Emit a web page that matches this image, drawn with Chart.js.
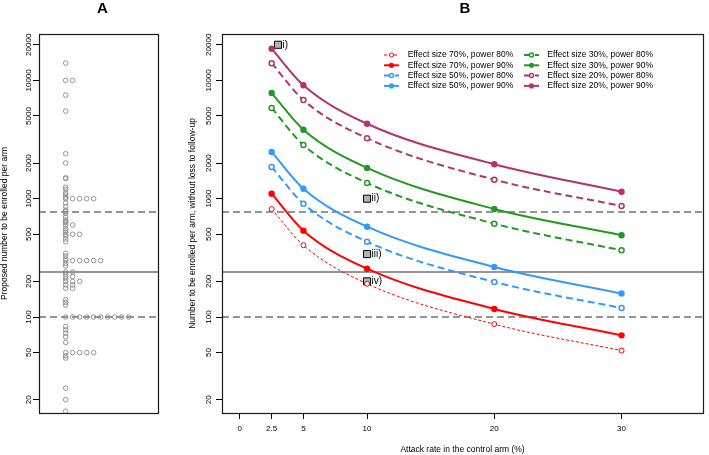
<!DOCTYPE html>
<html>
<head>
<meta charset="utf-8">
<script src="https://cdn.jsdelivr.net/npm/chart.js@4.4.0/dist/chart.umd.min.js"></script>
<style>
  body { margin: 0; background: #fff; }
  #wrap { position: relative; width: 709px; height: 455px; }
  #chartA { position: absolute; left: 0; top: 0; }
  #chartB { position: absolute; left: 180px; top: 0; }
</style>
</head>
<body>
<div id="wrap">
  <canvas id="chartA" width="180" height="455"></canvas>
  <canvas id="chartB" width="529" height="455"></canvas>
</div>
<script>
// ---- data ----
const yTicks = [20, 50, 100, 200, 500, 1000, 2000, 5000, 10000, 20000];
const xTicks = [0, 2.5, 5, 10, 20, 30];
const attackRates = [2.5, 5, 10, 20, 30];

const seriesLabels = [
  'Effect size 70%, power 80%',
  'Effect size 70%, power 90%',
  'Effect size 50%, power 80%',
  'Effect size 50%, power 90%',
  'Effect size 30%, power 80%',
  'Effect size 30%, power 90%',
  'Effect size 20%, power 80%',
  'Effect size 20%, power 90%'
];
const es70p80 = [818, 404, 191, 87, 52];
const es70p90 = [1102, 537, 256, 117, 70];
const es50p80 = [1854, 907, 433, 198, 119];
const es50p90 = [2483, 1215, 580, 265, 158];
const es30p80 = [5850, 2845, 1358, 615, 366];
const es30p90 = [7815, 3830, 1819, 818, 491];
const es20p80 = [13970, 6820, 3245, 1448, 867];
const es20p90 = [18530, 9100, 4300, 1955, 1146];

// proposed sample sizes per arm (panel A)
const trialSizes = [
  14000, 10000, 10000, 7500, 5500, 2400, 2000, 1500, 1480, 1250, 1200, 1120, 1075, 1030,
  1000, 1000, 1000, 1000, 1000,
  920, 860, 800, 777, 750, 700, 660, 640, 627,
  600, 600, 560, 540, 520,
  500, 500, 500, 485, 457, 433,
  346, 328, 310,
  300, 300, 300, 300, 300, 300,
  284, 270,
  240, 240, 230, 220, 220, 210,
  200, 200, 200,
  187, 187, 175, 175,
  140, 133, 126,
  100, 100, 100, 100, 100, 100, 100, 100, 100, 100,
  83, 78, 73, 68, 61,
  50, 50, 50, 50, 50,
  47, 45, 25, 20, 16
];

const refLines = [770, 240, 100];
const refDashed = [true, false, true];

const markX = [3, 10, 10, 10];
const markY = [20000, 1000, 340, 200];
const markLabels = ['i)', 'ii)', 'iii)', 'iv)'];

Chart.defaults.font.family = '"Liberation Sans", Arial, Helvetica, sans-serif';
Chart.defaults.color = '#000';

// stripchart "stack": repeated values move one column right
const seen = {};
const stripPoints = trialSizes.map(v => {
  seen[v] = (seen[v] || 0) + 1;
  return { x: seen[v] - 1, y: v };
});

// ---- plugins ----
const framePlugin = {
  id: 'frame',
  beforeDatasetsDraw(chart) {
    const { ctx, chartArea: a, scales: { y } } = chart;
    ctx.save();
    ctx.strokeStyle = '#737373';
    ctx.lineWidth = 1.5;
    refLines.forEach((v, i) => {
      const py = y.getPixelForValue(v);
      ctx.setLineDash(refDashed[i] ? [7, 4] : []);
      ctx.beginPath();
      ctx.moveTo(a.left, py);
      ctx.lineTo(a.right, py);
      ctx.stroke();
    });
    ctx.restore();
  },
  afterDraw(chart, args, opts) {
    const { ctx, chartArea: a, scales: { y } } = chart;
    ctx.save();
    ctx.strokeStyle = '#1a1a1a';
    ctx.lineWidth = 1.2;
    ctx.strokeRect(a.left + 0.5, a.top + 0.5, a.right - a.left, a.bottom - a.top);
    // rotated y tick labels
    ctx.fillStyle = '#000';
    ctx.font = '8px "Liberation Sans", Arial, sans-serif';
    ctx.textAlign = 'center';
    ctx.textBaseline = 'middle';
    y.ticks.forEach(t => {
      const py = y.getPixelForValue(t.value);
      ctx.save();
      ctx.translate(opts.labelX, py);
      ctx.rotate(-Math.PI / 2);
      ctx.fillText(String(t.value), 0, 0);
      ctx.restore();
    });
    // panel letter
    ctx.font = 'bold 15px "Liberation Sans", Arial, sans-serif';
    ctx.fillText(opts.panel, opts.panelX, 9);
    ctx.restore();
  }
};

const legendPlugin = {
  id: 'seriesLegend',
  afterDraw(chart, args, opts) {
    const ctx = chart.ctx;
    ctx.save();
    ctx.font = '8.5px "Liberation Sans", Arial, sans-serif';
    ctx.textBaseline = 'middle';
    ctx.textAlign = 'left';
    seriesLabels.forEach((label, i) => {
      const ds = chart.data.datasets[i];
      const col = Math.floor(i / 4), row = i % 4;
      const x0 = opts.symX[col], yy = opts.rowY0 + row * opts.rowStep;
      ctx.strokeStyle = ds.borderColor;
      ctx.lineWidth = ds.borderWidth;
      ctx.setLineDash(ds.borderDash);
      ctx.beginPath();
      ctx.moveTo(x0, yy);
      ctx.lineTo(x0 + 15, yy);
      ctx.stroke();
      ctx.setLineDash([]);
      ctx.beginPath();
      ctx.arc(x0 + 7.5, yy, ds.pointRadius * 0.8, 0, Math.PI * 2);
      ctx.fillStyle = ds.pointBackgroundColor;
      ctx.fill();
      if (ds.pointBorderWidth > 0) {
        ctx.lineWidth = ds.pointBorderWidth;
        ctx.strokeStyle = ds.pointBorderColor;
        ctx.stroke();
      }
      ctx.fillStyle = '#000';
      ctx.fillText(label, opts.textX[col], yy);
    });
    ctx.restore();
  }
};

const markLabelPlugin = {
  id: 'markLabels',
  afterDatasetsDraw(chart) {
    const { ctx, scales: { x, y } } = chart;
    ctx.save();
    ctx.font = '10px "Liberation Sans", Arial, sans-serif';
    ctx.fillStyle = '#000';
    ctx.textAlign = 'left';
    ctx.textBaseline = 'middle';
    markLabels.forEach((t, i) => {
      ctx.fillText(t, x.getPixelForValue(markX[i]) + 4.5, y.getPixelForValue(markY[i]));
    });
    ctx.restore();
  }
};

// ---- panel A ----
new Chart(document.getElementById('chartA'), {
  type: 'scatter',
  data: {
    datasets: [{
      data: stripPoints,
      pointStyle: 'circle',
      pointRadius: 2.3,
      borderWidth: 0.9,
      borderColor: '#8a8a8a',
      backgroundColor: 'rgba(0,0,0,0)'
    }]
  },
  options: {
    responsive: false,
    animation: false,
    events: [],
    layout: { padding: { left: 0, right: 22, top: 34, bottom: 42 } },
    plugins: {
      legend: { display: false },
      tooltip: { enabled: false },
      frame: { labelX: 28.3, panel: 'A', panelX: 102.5 }
    },
    scales: {
      x: { type: 'linear', display: false, min: -3.81, max: 13.19 },
      y: {
        type: 'logarithmic',
        min: 15.44, max: 24660,
        afterBuildTicks: s => { s.ticks = yTicks.map(v => ({ value: v })); },
        afterFit: s => { s.width = 39; },
        ticks: { display: false },
        grid: { drawOnChartArea: false, tickLength: 6, color: '#000' },
        border: { display: false },
        title: {
          display: true,
          text: 'Proposed number to be enrolled per arm',
          font: { size: 8.5 },
          padding: { top: 0, bottom: 0 }
        }
      }
    }
  },
  plugins: [framePlugin]
});

// ---- panel B ----
function series(label, values, color, power90, thin) {
  return {
    type: 'line',
    label: label,
    data: attackRates.map((x, i) => ({ x: x, y: values[i] })),
    borderColor: color,
    backgroundColor: color,
    borderWidth: thin ? 1 : 2,
    borderDash: power90 ? [] : (thin ? [3, 2] : [7, 4]),
    pointRadius: power90 ? 3.2 : 2.5,
    pointBorderWidth: power90 ? 0 : (thin ? 1 : 1.5),
    pointBorderColor: color,
    pointBackgroundColor: power90 ? color : '#fff',
    cubicInterpolationMode: 'monotone',
    fill: false
  };
}

const red = '#ff0000', blue = '#3399ff', green = '#229a22', maroon = '#b3336a';

new Chart(document.getElementById('chartB'), {
  type: 'line',
  data: {
    datasets: [
      series(seriesLabels[0], es70p80, red, false, true),
      series(seriesLabels[1], es70p90, red, true, false),
      series(seriesLabels[2], es50p80, blue, false, false),
      series(seriesLabels[3], es50p90, blue, true, false),
      series(seriesLabels[4], es30p80, green, false, false),
      series(seriesLabels[5], es30p90, green, true, false),
      series(seriesLabels[6], es20p80, maroon, false, false),
      series(seriesLabels[7], es20p90, maroon, true, false),
      {
        type: 'scatter',
        data: markX.map((x, i) => ({ x: x, y: markY[i] })),
        pointStyle: 'rect',
        pointRadius: 5,
        borderWidth: 1,
        borderColor: '#000',
        backgroundColor: '#b3b3b3'
      }
    ]
  },
  options: {
    responsive: false,
    animation: false,
    events: [],
    layout: { padding: { left: 0, right: 1, top: 34, bottom: 0 } },
    plugins: {
      legend: { display: false },
      tooltip: { enabled: false },
      frame: { labelX: 29, panel: 'B', panelX: 285 },
      seriesLegend: { symX: [204, 344], textX: [227.7, 367.3], rowY0: 55, rowStep: 10.3 }
    },
    scales: {
      x: {
        type: 'linear',
        min: -1.4, max: 36.4,
        afterBuildTicks: s => { s.ticks = xTicks.map(v => ({ value: v })); },
        afterFit: s => { s.height = 42; },
        ticks: { font: { size: 8 }, padding: 5, maxRotation: 0, autoSkip: false, callback: v => String(v) },
        grid: { drawOnChartArea: false, tickLength: 6, color: '#000' },
        border: { display: false },
        title: {
          display: true,
          text: 'Attack rate in the control arm (%)',
          font: { size: 8.5 },
          padding: { top: 0, bottom: 0 }
        }
      },
      y: {
        type: 'logarithmic',
        min: 15.44, max: 24660,
        afterBuildTicks: s => { s.ticks = yTicks.map(v => ({ value: v })); },
        afterFit: s => { s.width = 42; },
        ticks: { display: false },
        grid: { drawOnChartArea: false, tickLength: 6, color: '#000' },
        border: { display: false },
        title: {
          display: true,
          text: 'Number to be enrolled per arm, without loss to follow-up',
          font: { size: 8.5 },
          padding: { top: 7.6, bottom: 0 }
        }
      }
    }
  },
  plugins: [framePlugin, legendPlugin, markLabelPlugin]
});
</script>
</body>
</html>
